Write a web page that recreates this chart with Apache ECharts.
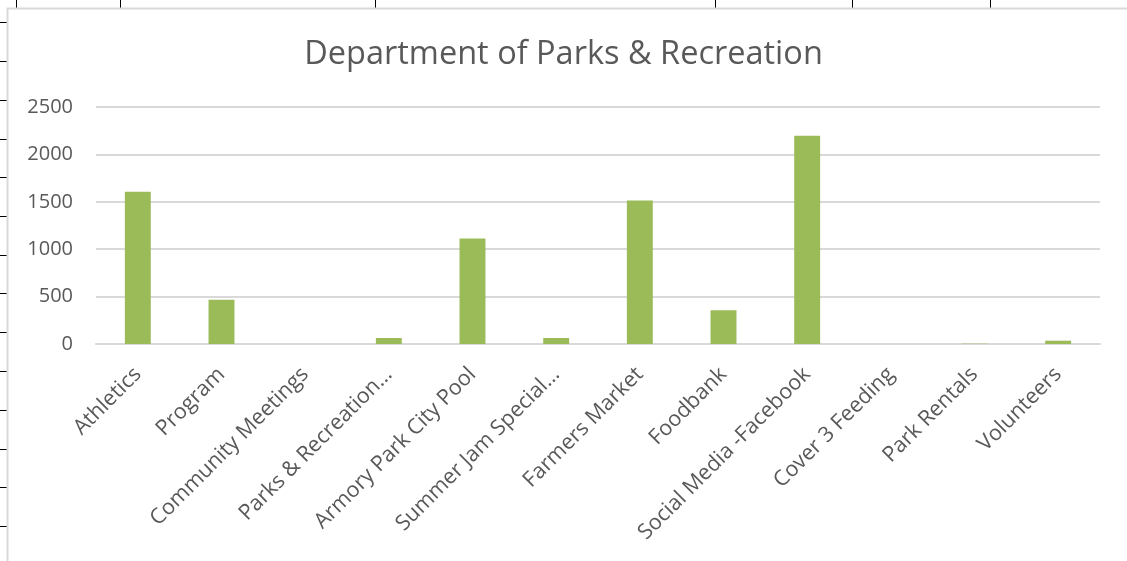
<!DOCTYPE html>
<html>
  <head>
    <meta charset="utf-8" />
    <title>Department of Parks & Recreation</title>
    <script src="https://cdn.jsdelivr.net/npm/echarts@6/dist/echarts.min.js"></script>
    <style type="text/css">
      * {
        margin: 0px;
        padding: 0px;
      }
      body {
        background-color: #ffffff;
      }
    </style>
  </head>
  <body>
    <div id="main" style="width: 1127px; height: 561px"></div>
  </body>
</html>
<script>
  // categories and values
  let categories = [
    "Athletics",
    "Program",
    "Community Meetings",
    "Parks & Recreation…",
    "Armory Park City Pool",
    "Summer Jam Special…",
    "Farmers Market",
    "Foodbank",
    "Social Media -Facebook",
    "Cover 3 Feeding",
    "Park Rentals",
    "Volunteers"
  ];
  let values = [1605, 468, 0, 63, 1113, 63, 1514, 356, 2197, 0, 3, 35];
  let yTicks = [0, 500, 1000, 1500, 2000, 2500];

  // spreadsheet cell borders showing behind the chart
  let colLines = [16, 120, 375, 715, 852, 990];
  let rowLines = [22, 61, 100, 139, 177, 216, 255, 293, 332, 371, 410, 449, 487, 526];

  let font = "'Open Sans', 'Noto Sans', sans-serif";
  let grey = "#595959";

  let sheet = [];
  colLines.forEach(function (x) {
    sheet.push({
      type: "line",
      shape: { x1: x + 0.5, y1: 0, x2: x + 0.5, y2: 8 },
      style: { stroke: "#000", lineWidth: 1 }
    });
  });
  rowLines.forEach(function (y) {
    sheet.push({
      type: "line",
      shape: { x1: 0, y1: y + 0.5, x2: 7, y2: y + 0.5 },
      style: { stroke: "#000", lineWidth: 1 }
    });
  });
  // chart frame
  sheet.push({
    type: "polyline",
    shape: { points: [[7.5, 561], [7.5, 8.5], [1127, 8.5]] },
    style: { stroke: "#d9d9d9", lineWidth: 2, fill: null }
  });

  let myChart = echarts.init(document.getElementById("main"));

  let option = {
    backgroundColor: "#ffffff",
    animation: false,
    title: {
      text: "Department of Parks & Recreation",
      left: "center",
      top: 33,
      textStyle: { fontFamily: font, fontSize: 32.5, fontWeight: "normal", color: grey }
    },
    graphic: sheet,
    grid: {
      left: 96,
      right: 27,
      top: 107,
      bottom: 217,
      containLabel: false,
      outerBoundsMode: "none"
    },
    xAxis: {
      type: "category",
      data: categories,
      axisTick: { show: false },
      axisLine: { lineStyle: { color: "#d9d9d9", width: 2 } },
      axisLabel: {
        interval: 0,
        rotate: 45,
        margin: 27,
        fontFamily: font,
        fontSize: 21.5,
        color: grey
      }
    },
    yAxis: {
      type: "value",
      min: yTicks[0],
      max: yTicks[yTicks.length - 1],
      interval: 500,
      axisLine: { show: false },
      axisTick: { show: false },
      splitLine: { lineStyle: { color: "#d9d9d9", width: 2 } },
      axisLabel: {
        margin: 23,
        fontFamily: font,
        fontSize: 20,
        color: grey,
        formatter: function (v) {
          return String(v);
        }
      }
    },
    series: [
      {
        type: "bar",
        data: values,
        barWidth: "31%",
        itemStyle: { color: "#9bbb59" }
      }
    ]
  };

  myChart.setOption(option);
</script>
